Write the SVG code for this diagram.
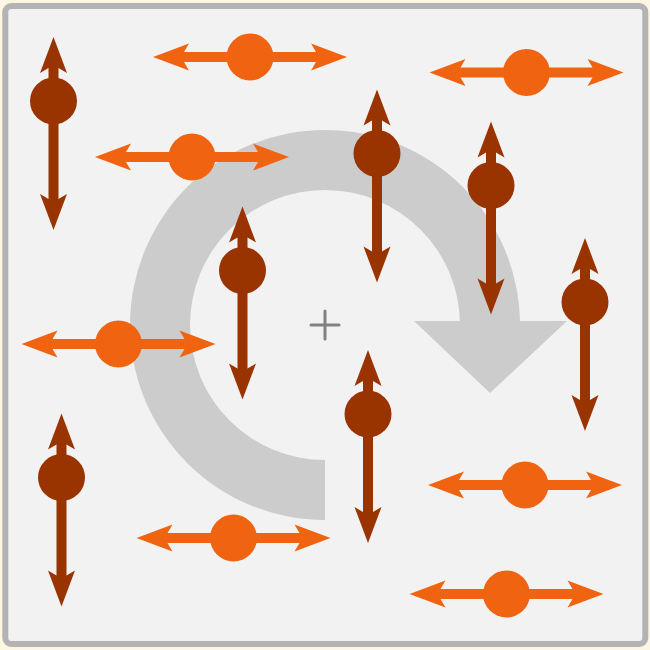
<svg xmlns="http://www.w3.org/2000/svg" xmlns:xlink="http://www.w3.org/1999/xlink" width="650" height="650" viewBox="0 0 650 650">
<style>
.frame{fill:#f2f2f2;stroke:#b3b3b3;stroke-width:6}
.turn{fill:#cccccc}
.plus{stroke:#808080;stroke-width:3;stroke-linecap:round;fill:none}
.dark{fill:#993300}
.orange{fill:#f06411}
</style>
<defs>
<g id="vdip">
<rect x="-5" y="-34" width="10" height="133"/>
<path d="M0,-64 L13.5,-28 L5,-33 L-5,-33 L-13.5,-28 Z"/>
<path d="M0,129 L13.5,93 L5,98 L-5,98 L-13.5,93 Z"/>
<circle cx="0" cy="0" r="23.5"/>
</g>
<g id="hdip">
<rect x="-68" y="-5" width="136" height="10"/>
<path d="M-97,0 L-61,-13.5 L-66,-5 L-66,5 L-61,13.5 Z"/>
<path d="M97,0 L61,-13.5 L66,-5 L66,5 L61,13.5 Z"/>
<circle cx="0" cy="0" r="23.5"/>
</g>
</defs>
<rect width="650" height="650" fill="#fdf6e3"/>
<rect class="frame" x="5.3" y="6" width="640" height="638" rx="6"/>
<g id="rotation">
<path class="turn" d="M325,520 A195,195 0 1 1 520,325 L460,325 A135,135 0 1 0 325,460 Z"/>
<polygon class="turn" points="414,321 567,321 490,393"/>
</g>
<g id="center">
<path class="plus" d="M311,325 H339 M325,311 V339"/>
</g>
<g id="connectors"></g>
<g id="h1" class="orange"><use href="#hdip" x="250" y="57"/></g>
<g id="h2" class="orange"><use href="#hdip" x="526.5" y="72.5"/></g>
<g id="h3" class="orange"><use href="#hdip" x="192" y="157"/></g>
<g id="h4" class="orange"><use href="#hdip" x="118.5" y="344"/></g>
<g id="h5" class="orange"><use href="#hdip" x="525" y="485"/></g>
<g id="h6" class="orange"><use href="#hdip" x="233.5" y="538"/></g>
<g id="h7" class="orange"><use href="#hdip" x="506.5" y="594"/></g>
<g id="v1" class="dark"><use href="#vdip" x="53.5" y="101"/></g>
<g id="v2" class="dark"><use href="#vdip" x="377" y="153.5"/></g>
<g id="v3" class="dark"><use href="#vdip" x="491" y="185.5"/></g>
<g id="v4" class="dark"><use href="#vdip" x="242.5" y="270.5"/></g>
<g id="v5" class="dark"><use href="#vdip" x="585" y="302"/></g>
<g id="v6" class="dark"><use href="#vdip" x="368" y="414"/></g>
<g id="v7" class="dark"><use href="#vdip" x="61.5" y="477.5"/></g>
</svg>
